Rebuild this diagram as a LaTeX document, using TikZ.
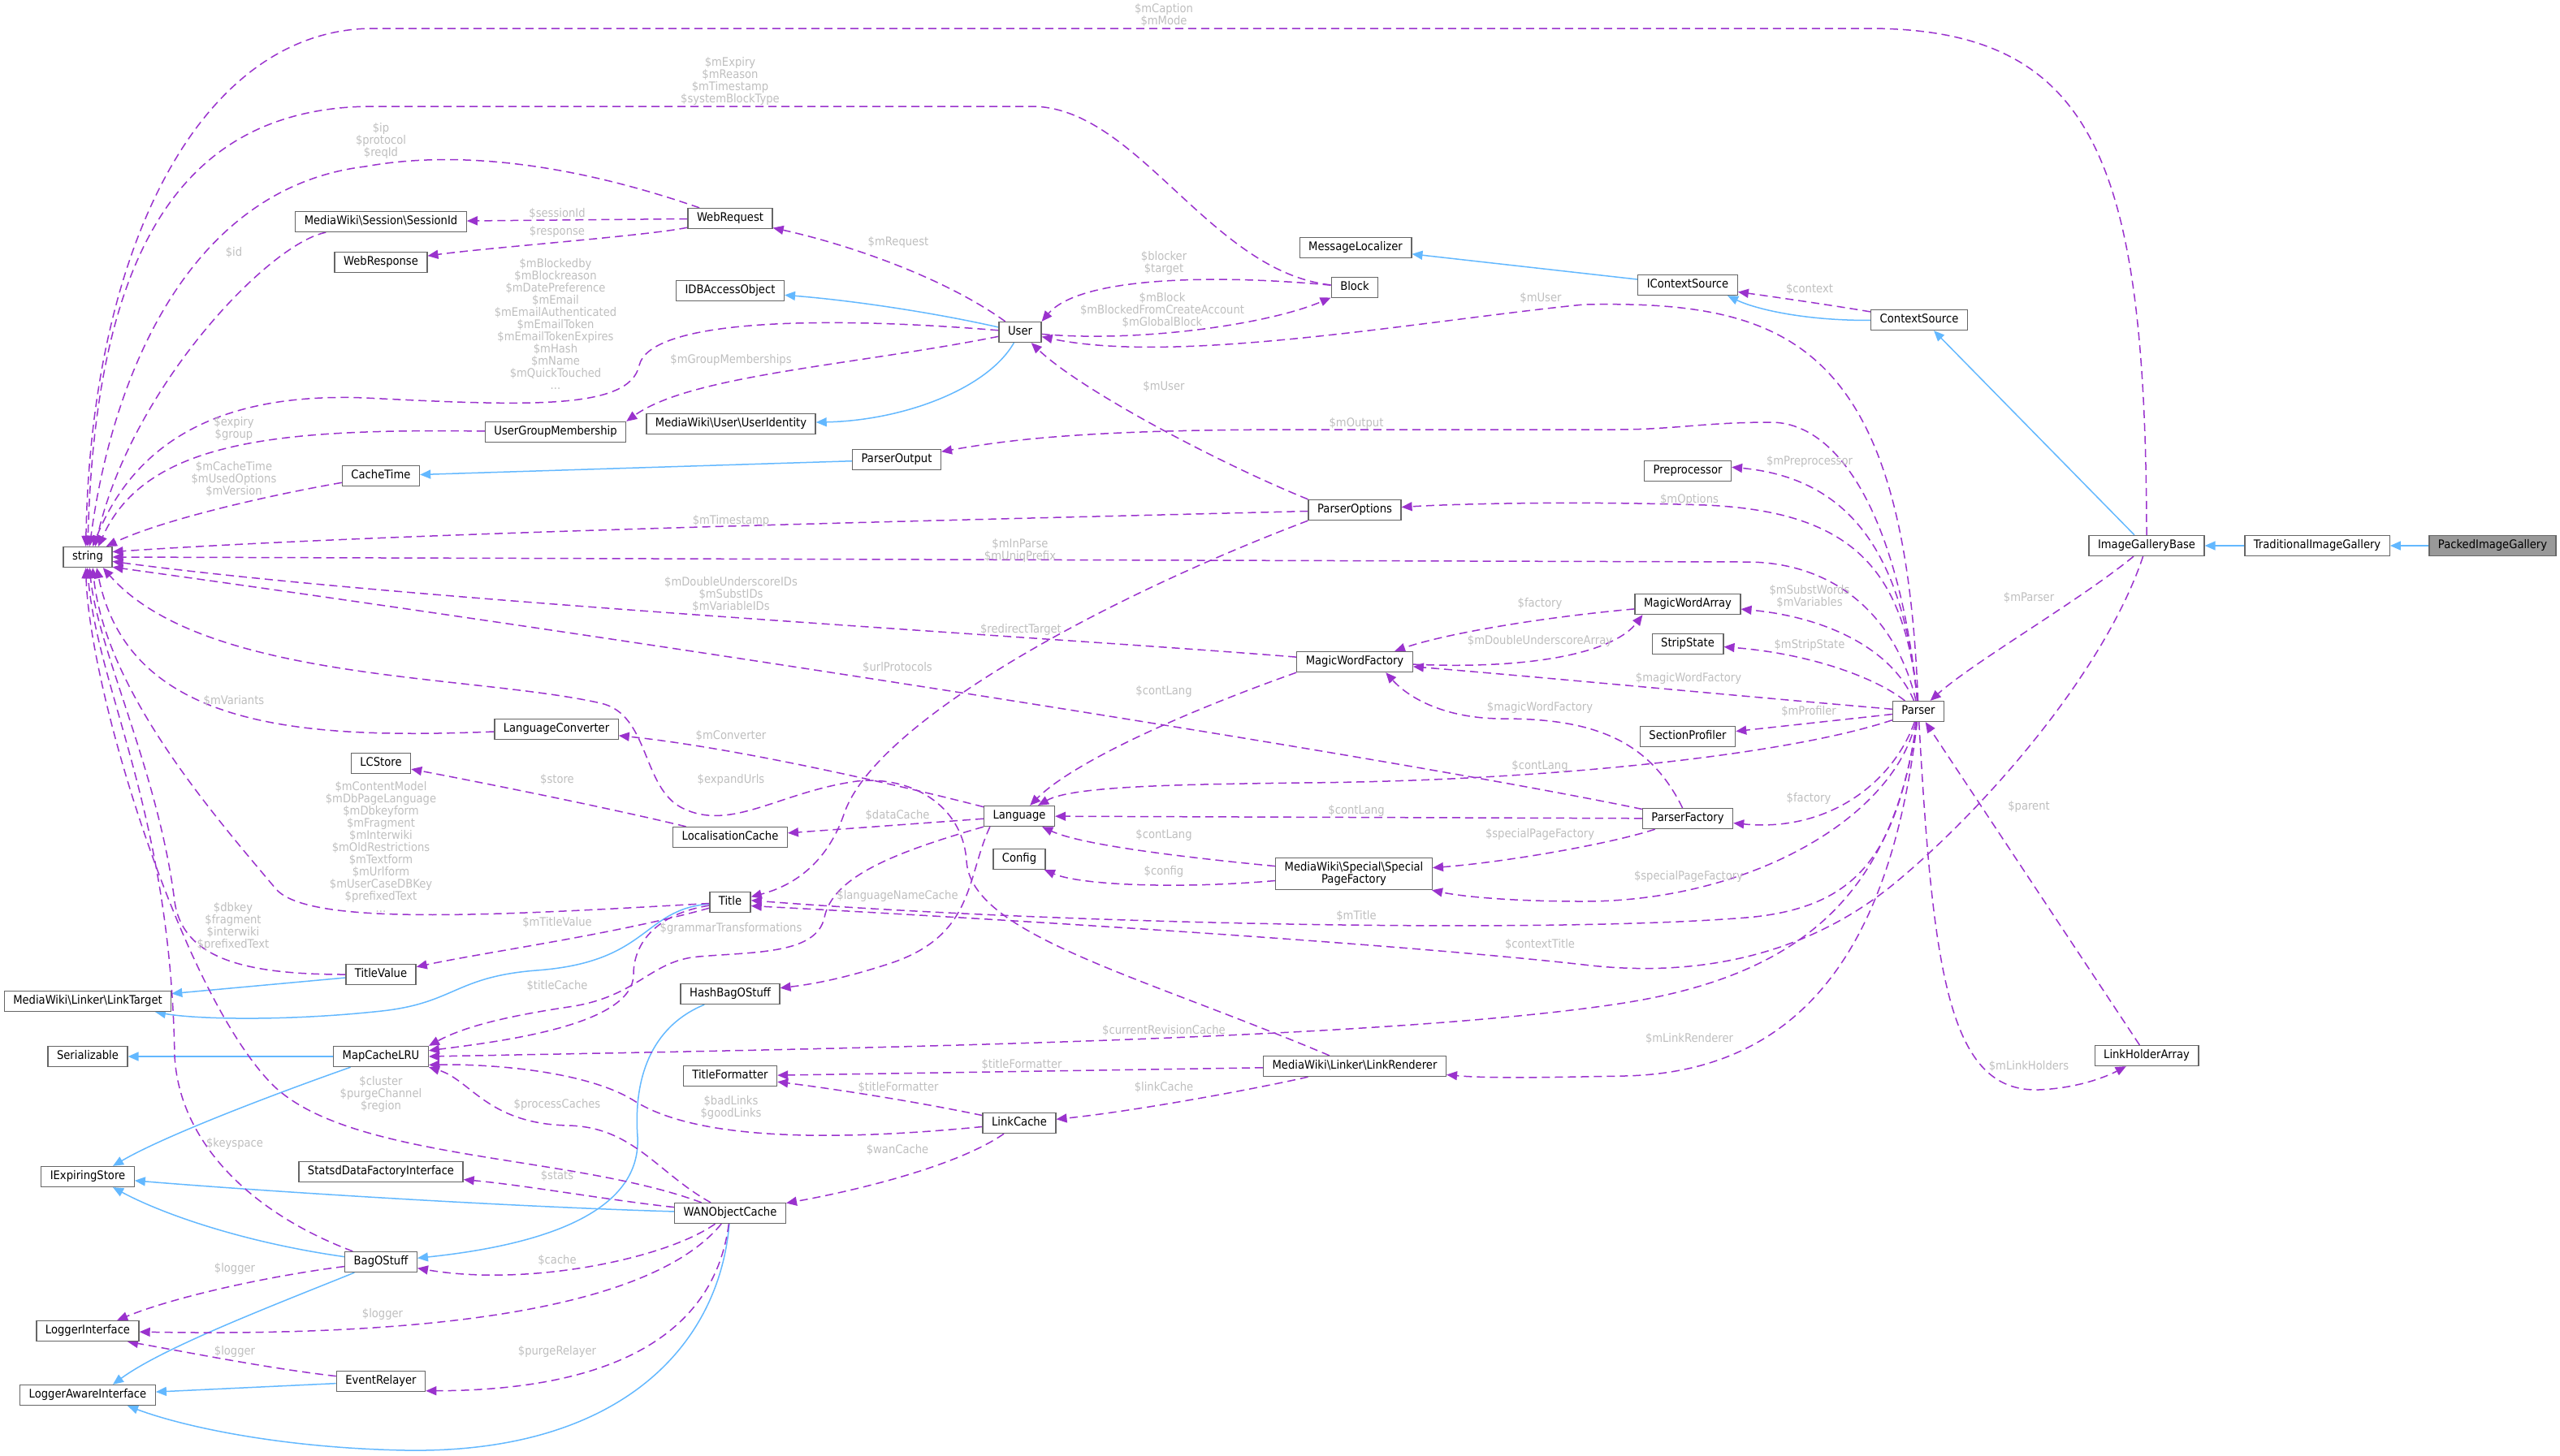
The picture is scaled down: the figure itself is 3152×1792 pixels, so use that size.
\documentclass[tikz,border=0pt]{standalone}
\usepackage{fontspec}
\setmainfont{DejaVu Sans}[FakeStretch=0.9]
\usepackage{tikz}
\usetikzlibrary{arrows.meta, backgrounds}
\definecolor{EdgePurple}{HTML}{9A32CD}
\definecolor{EdgeBlue}{HTML}{63B8FF}
\definecolor{LabelGray}{HTML}{BEBEBE}
\definecolor{BoxGray}{HTML}{666666}
\definecolor{CurrentFill}{HTML}{999999}
\newcommand{\bsl}{\textbackslash}
\newcommand{\diafont}{\fontsize{14.6}{15}\selectfont}
\tikzset{
	box/.style={draw=BoxGray, line width=1.3pt, fill=white, inner xsep=11pt, inner ysep=3pt, minimum height=25pt, font=\diafont},
	cls/.style={box, text height=11pt, text depth=3.5pt},
	current/.style={cls, fill=CurrentFill},
	dep/.style={draw=EdgePurple, line width=1.5pt, dash pattern=on 10pt off 6pt, -{Triangle[length=13pt,width=11pt]}},
	inh/.style={draw=EdgeBlue, line width=1.5pt, -{Triangle[length=13pt,width=11pt]}},
	lbl/.style={text=LabelGray, align=center, inner sep=0pt, font=\diafont},
}

\begin{document}
\begin{tikzpicture}[x=1pt, y=-1pt]
	\useasboundingbox (0,0) rectangle (3152,1792);

	% classes
	\node[cls] (string) at (108,686) {string};
	\node[cls] (linktarget) at (108,1233) {MediaWiki\bsl Linker\bsl LinkTarget};
	\node[cls] (serializable) at (108,1301) {Serializable};
	\node[cls] (iexpiring) at (108,1449) {IExpiringStore};
	\node[cls] (loggeriface) at (108,1639) {LoggerInterface};
	\node[cls] (loggeraware) at (108,1718) {LoggerAwareInterface};

	\node[cls] (sessionid) at (469,273) {MediaWiki\bsl Session\bsl SessionId};
	\node[cls] (webresponse) at (469,323) {WebResponse};
	\node[cls] (cachetime) at (469,586) {CacheTime};
	\node[cls] (lcstore) at (469,940) {LCStore};
	\node[cls] (titlevalue) at (469,1200) {TitleValue};
	\node[cls] (mapcache) at (469,1301) {MapCacheLRU};
	\node[cls] (statsd) at (469,1443) {StatsdDataFactoryInterface};
	\node[cls] (bagostuff) at (469,1554) {BagOStuff};
	\node[cls] (eventrelayer) at (469,1701) {EventRelayer};
	\node[cls] (usergroup) at (684,532) {UserGroupMembership};
	\node[cls] (langconv) at (685,898) {LanguageConverter};

	\node[cls] (webrequest) at (899,269) {WebRequest};
	\node[cls] (idbaccess) at (899,358) {IDBAccessObject};
	\node[cls] (useridentity) at (900,522) {MediaWiki\bsl User\bsl UserIdentity};
	\node[cls] (l10ncache) at (899,1031) {LocalisationCache};
	\node[cls] (title) at (899,1111) {Title};
	\node[cls] (hashbag) at (899,1224) {HashBagOStuff};
	\node[cls] (titlefmt) at (899,1325) {TitleFormatter};
	\node[cls] (wancache) at (899,1494) {WANObjectCache};
	\node[cls] (parseroutput) at (1104,566) {ParserOutput};

	\node[cls] (user) at (1256,409) {User};
	\node[cls] (language) at (1255,1005) {Language};
	\node[cls] (config) at (1255,1058) {Config};
	\node[cls] (linkcache) at (1255,1383) {LinkCache};

	\node[cls] (msglocalizer) at (1669,305) {MessageLocalizer};
	\node[cls] (block) at (1668,354) {Block};
	\node[cls] (parseroptions) at (1668,628) {ParserOptions};
	\node[cls] (mwfactory) at (1668,815) {MagicWordFactory};
	\node[box, align=center, inner ysep=5pt] (spfactory) at (1667,1076) {MediaWiki\bsl Special\bsl Special\\PageFactory};
	\node[cls] (linkrenderer) at (1668,1313) {MediaWiki\bsl Linker\bsl LinkRenderer};

	\node[cls] (icontext) at (2078,351) {IContextSource};
	\node[cls] (preprocessor) at (2078,580) {Preprocessor};
	\node[cls] (mwarray) at (2078,744) {MagicWordArray};
	\node[cls] (stripstate) at (2078,793) {StripState};
	\node[cls] (profiler) at (2078,907) {SectionProfiler};
	\node[cls] (parserfactory) at (2078,1008) {ParserFactory};

	\node[cls] (contextsource) at (2363,394) {ContextSource};
	\node[cls] (parser) at (2362,876) {Parser};
	\node[cls] (gallerybase) at (2643,672) {ImageGalleryBase};
	\node[cls] (linkholder) at (2643,1300) {LinkHolderArray};
	\node[cls] (tradgallery) at (2853,672) {TraditionalImageGallery};
	\node[current] (packedgallery) at (3069,672) {PackedImageGallery};

	\begin{scope}[on background layer]
	% inheritance
	\draw[inh] (packedgallery) -- (tradgallery);
	\draw[inh] (tradgallery) -- (gallerybase);
	\draw[inh] ([xshift=-15pt]gallerybase.north) -- ([xshift=18pt]contextsource.south);
	\draw[inh] (contextsource) .. controls (2220,395) and (2160,380) .. (icontext.-15);
	\draw[inh] (icontext) -- (msglocalizer);
	\draw[inh] (user) .. controls (1150,385) and (1050,370) .. (idbaccess);
	\draw[inh] (user) .. controls (1215,480) and (1110,518) .. (useridentity);
	\draw[inh] (parseroutput) -- (cachetime);
	\draw[inh] (titlevalue) -- (linktarget);
	\draw[inh] (title) .. controls (790,1120) and (800,1185) .. (660,1195) .. controls (560,1203) and (560,1235) .. (470,1245) .. controls (350,1258) and (240,1255) .. (linktarget.-9);
	\draw[inh] (mapcache) -- (serializable);
	\draw[inh] (mapcache) .. controls (330,1350) and (200,1400) .. (iexpiring.23);
	\draw[inh] (wancache) .. controls (600,1485) and (300,1465) .. (iexpiring);
	\draw[inh] (bagostuff) .. controls (300,1530) and (200,1495) .. (iexpiring.-23);
	\draw[inh] (hashbag) .. controls (800,1265) and (780,1330) .. (785,1400) .. controls (790,1500) and (650,1535) .. (bagostuff);
	\draw[inh] (bagostuff) .. controls (330,1610) and (200,1660) .. (loggeraware.23);
	\draw[inh] (eventrelayer) -- (loggeraware);
	\draw[inh] (wancache) .. controls (885,1660) and (760,1790) .. (500,1786) .. controls (340,1783) and (220,1755) .. (loggeraware.-15);

	% members of type string
	\draw[dep] (gallerybase.north) .. controls (2642,200) and (2580,35) .. (2300,35) -- (460,35) .. controls (250,35) and (112,300) .. (string.100);
	\draw[dep] (block) .. controls (1490,335) and (1400,131) .. (1270,131) -- (460,131) .. controls (230,131) and (118,300) .. (string.90);
	\draw[dep] (webrequest) .. controls (700,200) and (560,185) .. (450,205) .. controls (240,230) and (140,450) .. (string.80);
	\draw[dep] (sessionid) .. controls (330,300) and (160,480) .. (string.55);
	\draw[dep] (user) .. controls (1000,388) and (800,395) .. (787,450) .. controls (775,505) and (650,500) .. (450,490) .. controls (250,482) and (160,560) .. (string.65);
	\draw[dep] (usergroup) .. controls (350,528) and (180,540) .. (string.45);
	\draw[dep] (cachetime) .. controls (330,610) and (200,640) .. (string.30);
	\draw[dep] (parseroptions) .. controls (1200,640) and (500,655) .. (string.12);
	\draw[dep] (parser) .. controls (2335,760) and (2260,692) .. (2150,692) -- (string.east);
	\draw[dep] (mwfactory) .. controls (1300,785) and (500,740) .. (string.-10);
	\draw[dep] (parserfactory) .. controls (1700,930) and (800,790) .. (string.-22);
	\draw[dep] (linkrenderer) .. controls (1400,1200) and (1195,1150) .. (1190,1060) .. controls (1185,990) and (1120,955) .. (1055,962) .. controls (960,975) and (900,1025) .. (840,995) .. controls (790,970) and (800,880) .. (740,866) .. controls (580,830) and (250,840) .. (string.-35);
	\draw[dep] (langconv) .. controls (380,910) and (160,900) .. (string.-50);
	\draw[dep] (title) .. controls (600,1128) and (380,1140) .. (340,1095) .. controls (260,1000) and (130,850) .. (string.-65);
	\draw[dep] (titlevalue) .. controls (300,1200) and (225,1180) .. (215,1110) .. controls (195,950) and (120,800) .. (string.-80);
	\draw[dep] (bagostuff) .. controls (300,1490) and (220,1400) .. (215,1300) .. controls (210,1000) and (120,850) .. (string.-92);
	\draw[dep] (wancache) .. controls (700,1420) and (420,1430) .. (330,1330) .. controls (220,1210) and (110,850) .. (string.-100);

	% user, block, web request
	\draw[dep] (user) .. controls (1160,340) and (1040,300) .. (webrequest);
	\draw[dep] (user) .. controls (1050,450) and (850,462) .. (usergroup.north east);
	\draw[dep] (block) .. controls (1500,338) and (1330,340) .. (user.north east);
	\draw[dep] (user) .. controls (1400,422) and (1560,400) .. (block);
	\draw[dep] (parseroptions.north west) .. controls (1500,570) and (1330,480) .. (user);
	\draw[dep] (webrequest) -- (sessionid);
	\draw[dep] (webrequest) .. controls (800,290) and (600,305) .. (webresponse);
	\draw[dep] (contextsource) .. controls (2250,375) and (2180,365) .. (icontext);

	% parser and galleries
	\draw[dep] (gallerybase) .. controls (2560,740) and (2430,815) .. (parser);
	\draw[dep] (gallerybase) .. controls (2590,830) and (2440,1000) .. (2330,1090) .. controls (2200,1195) and (2050,1200) .. (1950,1188) .. controls (1700,1160) and (1200,1130) .. (title.-10);
	\draw[dep] (parser) .. controls (2345,420) and (2200,370) .. (1950,375) .. controls (1750,395) and (1450,450) .. (user);
	\draw[dep] (parser) .. controls (2340,650) and (2270,520) .. (2180,520) .. controls (2100,520) and (2060,529) .. (1990,529) -- (1600,529) .. controls (1350,529) and (1250,540) .. (parseroutput);
	\draw[dep] (parser) .. controls (2345,700) and (2290,590) .. (preprocessor.5);
	\draw[dep] (parser) .. controls (2345,700) and (2280,630) .. (2100,622) .. controls (1950,617) and (1800,620) .. (parseroptions);
	\draw[dep] (parser) .. controls (2330,800) and (2250,760) .. (mwarray);
	\draw[dep] (parser) .. controls (2310,835) and (2230,805) .. (stripstate);
	\draw[dep] (parser) .. controls (2150,858) and (1900,834) .. (mwfactory);
	\draw[dep] (parser) -- (profiler);
	\draw[dep] (parser) .. controls (2200,930) and (1900,962) .. (1600,964) .. controls (1450,966) and (1320,968) .. (language);
	\draw[dep] (parser) .. controls (2330,965) and (2250,1025) .. (parserfactory);
	\draw[dep] (parser) .. controls (2330,1010) and (2150,1110) .. (1950,1110) .. controls (1860,1110) and (1800,1104) .. (spfactory);
	\draw[dep] (parser) .. controls (2335,1050) and (2290,1118) .. (2150,1130) .. controls (1900,1150) and (1300,1138) .. (title.5);
	\draw[dep] (parser) .. controls (2330,1100) and (2220,1200) .. (2000,1235) .. controls (1700,1282) and (1000,1292) .. (mapcache.east);
	\draw[dep] (parser) .. controls (2330,1150) and (2230,1320) .. (2000,1325) .. controls (1900,1327) and (1830,1328) .. (linkrenderer);
	\draw[dep] (parser) .. controls (2380,1200) and (2400,1345) .. (2510,1342) .. controls (2560,1340) and (2595,1325) .. (linkholder);
	\draw[dep] (linkholder) -- (parser);

	% magic words, factories, language
	\draw[dep] (mwarray) .. controls (1900,760) and (1780,780) .. (mwfactory.15);
	\draw[dep] (mwfactory) .. controls (1900,825) and (1990,800) .. ([xshift=10pt]mwarray.south west);
	\draw[dep] (parserfactory) .. controls (2030,910) and (1960,885) .. (1850,885) .. controls (1780,885) and (1735,860) .. (mwfactory.-19);
	\draw[dep] (mwfactory.south west) .. controls (1450,880) and (1320,940) .. (language);
	\draw[dep] (parserfactory) -- (language);
	\draw[dep] (parserfactory) .. controls (1980,1040) and (1850,1062) .. (spfactory);
	\draw[dep] (spfactory) .. controls (1450,1055) and (1330,1040) .. (language);
	\draw[dep] (spfactory) .. controls (1450,1095) and (1330,1090) .. (config);
	\draw[dep] (parseroptions.south west) .. controls (1350,740) and (1080,890) .. (1040,1000) .. controls (1020,1060) and (980,1090) .. (title);
	\draw[dep] (language) -- (l10ncache);
	\draw[dep] (language) .. controls (1100,965) and (900,920) .. (langconv);
	\draw[dep] (language.-160) .. controls (1190,1080) and (1200,1150) .. (1100,1185) .. controls (1040,1205) and (1000,1212) .. (hashbag);
	\draw[dep] (language.south west) .. controls (1100,1050) and (1025,1080) .. (1015,1130) .. controls (1005,1175) and (930,1172) .. (860,1178) .. controls (800,1183) and (785,1228) .. (700,1240) .. controls (620,1252) and (570,1265) .. (mapcache.north east);
	\draw[dep] (l10ncache) .. controls (750,995) and (600,965) .. (lcstore);
	\draw[dep] (title) .. controls (810,1125) and (780,1160) .. (780,1200) .. controls (780,1262) and (620,1282) .. (mapcache.7);
	\draw[dep] (title) .. controls (760,1150) and (600,1172) .. (titlevalue);

	% links and caches
	\draw[dep] (linkcache) .. controls (1000,1408) and (850,1400) .. (780,1355) .. controls (720,1318) and (600,1310) .. (mapcache.-10);
	\draw[dep] (linkcache) .. controls (1120,1355) and (1020,1340) .. (titlefmt);
	\draw[dep] (linkcache) .. controls (1180,1435) and (1060,1465) .. (wancache);
	\draw[dep] (linkrenderer) -- (titlefmt);
	\draw[dep] (linkrenderer) .. controls (1550,1340) and (1400,1368) .. (linkcache);
	\draw[dep] (wancache) .. controls (810,1445) and (780,1388) .. (700,1386) .. controls (600,1384) and (580,1330) .. (mapcache.south east);
	\draw[dep] (wancache) .. controls (750,1478) and (650,1460) .. (statsd);
	\draw[dep] (wancache) .. controls (820,1550) and (650,1585) .. (bagostuff);
	\draw[dep] (wancache) .. controls (820,1590) and (620,1648) .. (loggeriface);
	\draw[dep] (wancache) .. controls (880,1640) and (760,1712) .. (eventrelayer.-12);
	\draw[dep] (bagostuff) .. controls (340,1570) and (220,1595) .. (loggeriface.20);
	\draw[dep] (eventrelayer) .. controls (330,1685) and (230,1665) .. (loggeriface.-15);
	\end{scope}

	% edge labels
	\node[lbl] (lCaption) at (1433,19) {\$mCaption\\\$mMode};
	\node[lbl] (lExpiry) at (899,100) {\$mExpiry\\\$mReason\\\$mTimestamp\\\$systemBlockType};
	\node[lbl] (lIp) at (469,173) {\$ip\\\$protocol\\\$reqId};
	\node[lbl] (lSessionId) at (686,263) {\$sessionId};
	\node[lbl] (lResponse) at (686,285) {\$response};
	\node[lbl] (lId) at (288,311) {\$id};
	\node[lbl] (lRequest) at (1106,298) {\$mRequest};
	\node[lbl] (lBlocker) at (1433,324) {\$blocker\\\$target};
	\node[lbl] (lBlock) at (1431,382) {\$mBlock\\\$mBlockedFromCreateAccount\\\$mGlobalBlock};
	\node[lbl] (lUserParser) at (1897,367) {\$mUser};
	\node[lbl] (lContext) at (2228,356) {\$context};
	\node[lbl] (lBlockedby) at (684,399) {\$mBlockedby\\\$mBlockreason\\\$mDatePreference\\\$mEmail\\\$mEmailAuthenticated\\\$mEmailToken\\\$mEmailTokenExpires\\\$mHash\\\$mName\\\$mQuickTouched\\...};
	\node[lbl] (lGroups) at (900,443) {\$mGroupMemberships};
	\node[lbl] (lExpiryGroup) at (288,528) {\$expiry\\\$group};
	\node[lbl] (lCacheTime) at (288,590) {\$mCacheTime\\\$mUsedOptions\\\$mVersion};
	\node[lbl] (lUserOptions) at (1433,476) {\$mUser};
	\node[lbl] (lOutput) at (1670,521) {\$mOutput};
	\node[lbl] (lPreprocessor) at (2228,568) {\$mPreprocessor};
	\node[lbl] (lTimestamp) at (900,641) {\$mTimestamp};
	\node[lbl] (lOptions) at (2080,615) {\$mOptions};
	\node[lbl] (lInParse) at (1256,678) {\$mInParse\\\$mUniqPrefix};
	\node[lbl] (lParser) at (2498,736) {\$mParser};
	\node[lbl] (lUnderscoreIDs) at (900,732) {\$mDoubleUnderscoreIDs\\\$mSubstIDs\\\$mVariableIDs};
	\node[lbl] (lRedirect) at (1257,775) {\$redirectTarget};
	\node[lbl] (lFactoryArray) at (1896,743) {\$factory};
	\node[lbl] (lSubstWords) at (2228,735) {\$mSubstWords\\\$mVariables};
	\node[lbl] (lUnderscoreArray) at (1896,789) {\$mDoubleUnderscoreArray};
	\node[lbl] (lStripState) at (2228,794) {\$mStripState};
	\node[lbl] (lMagicParser) at (2079,835) {\$magicWordFactory};
	\node[lbl] (lMagicFactory) at (1896,871) {\$magicWordFactory};
	\node[lbl] (lUrlProtocols) at (1105,822) {\$urlProtocols};
	\node[lbl] (lContLangMagic) at (1433,851) {\$contLang};
	\node[lbl] (lConverter) at (900,906) {\$mConverter};
	\node[lbl] (lVariants) at (288,863) {\$mVariants};
	\node[lbl] (lProfiler) at (2227,876) {\$mProfiler};
	\node[lbl] (lStore) at (686,960) {\$store};
	\node[lbl] (lExpandUrls) at (900,960) {\$expandUrls};
	\node[lbl] (lContLangParser) at (1896,943) {\$contLang};
	\node[lbl] (lDataCache) at (1105,1004) {\$dataCache};
	\node[lbl] (lContLangFactory) at (1670,998) {\$contLang};
	\node[lbl] (lContLangSpecial) at (1433,1028) {\$contLang};
	\node[lbl] (lSpecialFactory) at (1896,1027) {\$specialPageFactory};
	\node[lbl] (lFactoryParser) at (2227,983) {\$factory};
	\node[lbl] (lConfig) at (1433,1073) {\$config};
	\node[lbl] (lParent) at (2498,993) {\$parent};
	\node[lbl] (lSpecialParser) at (2079,1079) {\$specialPageFactory};
	\node[lbl] (lContentModel) at (469,1043) {\$mContentModel\\\$mDbPageLanguage\\\$mDbkeyform\\\$mFragment\\\$mInterwiki\\\$mOldRestrictions\\\$mTextform\\\$mUrlform\\\$mUserCaseDBKey\\\$prefixedText\\...};
	\node[lbl] (lLangNameCache) at (1105,1103) {\$languageNameCache};
	\node[lbl] (lTitle) at (1670,1128) {\$mTitle};
	\node[lbl] (lContextTitle) at (1896,1163) {\$contextTitle};
	\node[lbl] (lTitleValue) at (686,1136) {\$mTitleValue};
	\node[lbl] (lGrammar) at (900,1143) {\$grammarTransformations};
	\node[lbl] (lDbkey) at (287,1141) {\$dbkey\\\$fragment\\\$interwiki\\\$prefixedText};
	\node[lbl] (lTitleCache) at (686,1214) {\$titleCache};
	\node[lbl] (lRevisionCache) at (1433,1269) {\$currentRevisionCache};
	\node[lbl] (lLinkRenderer) at (2080,1279) {\$mLinkRenderer};
	\node[lbl] (lLinkHolders) at (2498,1313) {\$mLinkHolders};
	\node[lbl] (lFormatterRenderer) at (1258,1311) {\$titleFormatter};
	\node[lbl] (lFormatterCache) at (1106,1339) {\$titleFormatter};
	\node[lbl] (lLinkCache) at (1433,1339) {\$linkCache};
	\node[lbl] (lCluster) at (469,1347) {\$cluster\\\$purgeChannel\\\$region};
	\node[lbl] (lProcessCaches) at (686,1360) {\$processCaches};
	\node[lbl] (lBadLinks) at (900,1364) {\$badLinks\\\$goodLinks};
	\node[lbl] (lWanCache) at (1105,1416) {\$wanCache};
	\node[lbl] (lKeyspace) at (289,1408) {\$keyspace};
	\node[lbl] (lStats) at (686,1448) {\$stats};
	\node[lbl] (lCache) at (686,1552) {\$cache};
	\node[lbl] (lLoggerBag) at (289,1562) {\$logger};
	\node[lbl] (lLoggerWan) at (471,1618) {\$logger};
	\node[lbl] (lLoggerRelayer) at (289,1664) {\$logger};
	\node[lbl] (lPurgeRelayer) at (686,1664) {\$purgeRelayer};
\end{tikzpicture}
\end{document}
